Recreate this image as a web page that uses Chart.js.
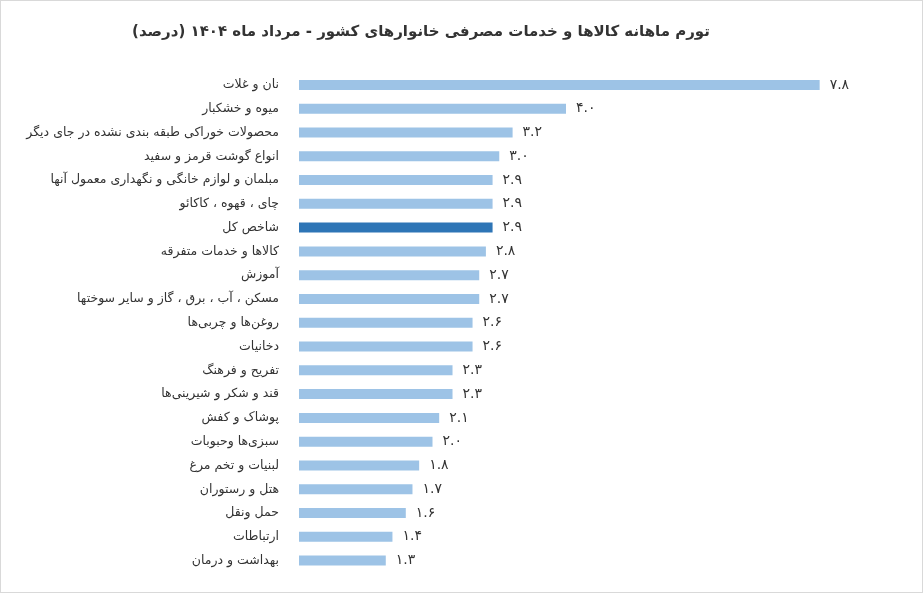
<!DOCTYPE html>
<html><head><meta charset="utf-8">
<script src="https://cdn.jsdelivr.net/npm/chart.js@4"></script>
<style>
html,body{margin:0;padding:0;background:#fff;}
#wrap{position:absolute;left:0;top:0;width:921px;height:591px;border:1px solid #d9d9d9;}
</style></head><body>
<div id="wrap"><canvas id="c" dir="rtl"></canvas></div>
<script>
const categories = ["نان و غلات","میوه و خشکبار","محصولات خوراکی طبقه بندی نشده در جای دیگر","انواع گوشت قرمز و سفید","مبلمان و لوازم خانگی و نگهداری معمول آنها","چای ، قهوه ، کاکائو","شاخص کل","کالاها و خدمات متفرقه","آموزش","مسکن ، آب ، برق ، گاز و سایر سوختها","روغن‌ها و چربی‌ها","دخانیات","تفریح و فرهنگ","قند و شکر و شیرینی‌ها","پوشاک و کفش","سبزی‌ها وحبوبات","لبنیات و تخم مرغ","هتل و رستوران","حمل ونقل","ارتباطات","بهداشت و درمان"];
const values = [7.8,4.0,3.2,3.0,2.9,2.9,2.9,2.8,2.7,2.7,2.6,2.6,2.3,2.3,2.1,2.0,1.8,1.7,1.6,1.4,1.3];
const titleText = "تورم ماهانه کالاها و خدمات مصرفی خانوارهای کشور - مرداد ماه ۱۴۰۴ (درصد)";
const fa = s => s.replace(/\d/g, d => "۰۱۲۳۴۵۶۷۸۹"[d]);
const colors = categories.map(c => c === "شاخص کل" ? "#2e75b6" : "#9dc3e6");
const valueLabels = {
  id:'valueLabels',
  afterDatasetsDraw(chart){
    const ctx = chart.ctx, meta = chart.getDatasetMeta(0);
    ctx.save(); ctx.font = "14px 'DejaVu Sans'"; ctx.fillStyle = "#333";
    ctx.textAlign = "left"; ctx.textBaseline = "middle"; ctx.direction = "ltr";
    meta.data.forEach((b,i)=>{ ctx.fillText(fa(values[i].toFixed(1)), b.x + 10, b.y); });
    ctx.restore();
  }
};
new Chart(document.getElementById('c'), {
  type:'bar',
  data:{labels:categories, datasets:[{data:values, backgroundColor:colors, barPercentage:0.42, categoryPercentage:1}]},
  options:{
    indexAxis:'y', responsive:true, maintainAspectRatio:false, animation:false,
    layout:{padding:{left:8,right:89,top:8,bottom:18}},
    plugins:{legend:{display:false}, tooltip:{enabled:false},
      title:{display:true, text:titleText, color:'#333', font:{family:"'DejaVu Sans'", size:15, weight:'bold'}, padding:{top:14,bottom:32}}},
    scales:{
      x:{display:false, min:0, max:8},
      y:{grid:{display:false}, border:{display:false},
         ticks:{color:'#333', font:{family:"'DejaVu Sans'", size:12.5}, padding:12, autoSkip:false},
         afterFit(s){ s.width = 290; }}
    }
  },
  plugins:[valueLabels]
});
</script></body></html>
